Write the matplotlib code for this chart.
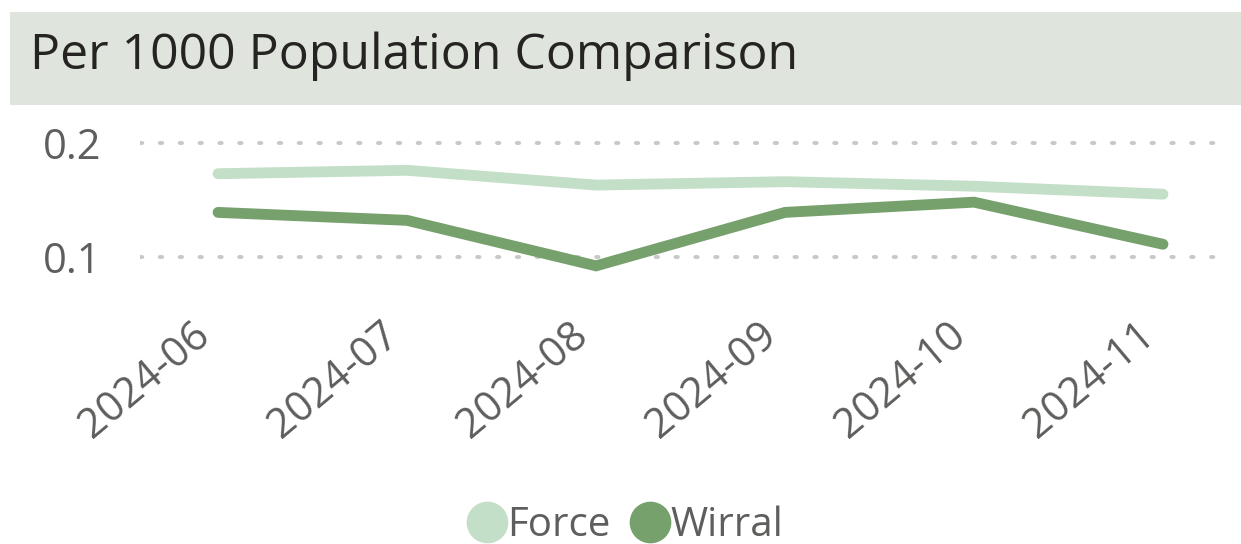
import matplotlib
matplotlib.use("Agg")
import matplotlib.pyplot as plt
import matplotlib.patches as patches
import matplotlib.transforms as mtransforms
from matplotlib.lines import Line2D

months = ["2024-06", "2024-07", "2024-08", "2024-09", "2024-10", "2024-11"]
force = [0.173, 0.176, 0.163, 0.166, 0.162, 0.155]
wirral = [0.139, 0.132, 0.092, 0.139, 0.148, 0.111]
y_ticks = [0.1, 0.2]

FORCE_COLOR = "#c3dfc8"
WIRRAL_COLOR = "#76a06c"
TEXT_GRAY = "#605e5c"

plt.rcParams['font.family'] = ['Open Sans', 'DejaVu Sans']

W, H = 1241, 544
fig = plt.figure(figsize=(W / 100, H / 100), dpi=100)

# Title banner
fig.patches.append(patches.Rectangle((10 / W, 1 - 105 / H), 1 - 10 / W, 93 / H,
                                     transform=fig.transFigure, facecolor="#dfe5dc",
                                     edgecolor="none", zorder=0))
fig.text(30 / W, 1 - 56 / H, "Per 1000 Population Comparison", fontsize=36,
         color="#252423", va="center", ha="left")

# Plot area
ax = fig.add_axes([140 / W, 1 - 300 / H, 1088 / W, 185 / H])
x = list(range(len(months)))
ax.plot(x, force, color=FORCE_COLOR, lw=7.8, solid_capstyle='round', solid_joinstyle='miter', zorder=3)
ax.plot(x, wirral, color=WIRRAL_COLOR, lw=7.8, solid_capstyle='round', solid_joinstyle='miter', zorder=3)

ax.set_xlim(-0.413, 5.344)
ax.set_ylim(0.062, 0.2246)
ax.set_yticks(y_ticks)
ax.set_yticklabels([f"{v:.1f}" for v in y_ticks])
ax.yaxis.grid(True, color="#c8c8c8", linestyle=(0, (0.6, 4.5)), linewidth=2.8,
              dash_capstyle='round')
ax.set_axisbelow(True)
for s in ax.spines.values():
    s.set_visible(False)
ax.tick_params(axis='y', length=0, pad=28, labelsize=30, labelcolor=TEXT_GRAY)
ax.set_xticks(x)
ax.set_xticklabels(months, rotation=40, ha='right', rotation_mode='anchor', va='center')
ax.tick_params(axis='x', length=0, pad=31, labelsize=30, labelcolor=TEXT_GRAY)
shift = mtransforms.ScaledTranslation(-13 / 100, 13 / 100, fig.dpi_scale_trans)
for lbl in ax.get_xticklabels():
    lbl.set_transform(lbl.get_transform() + shift)

# Legend
handles = [Line2D([], [], marker='o', linestyle='none', markersize=29, color=FORCE_COLOR),
           Line2D([], [], marker='o', linestyle='none', markersize=29, color=WIRRAL_COLOR)]
fig.legend(handles, ["Force", "Wirral"], loc='center', bbox_to_anchor=(627 / W, 1 - 526 / H),
           ncol=2, frameon=False, fontsize=29, labelcolor=TEXT_GRAY,
           handlelength=0.8, handletextpad=0.1, columnspacing=0.6)

fig.savefig("out.png", dpi=100)
